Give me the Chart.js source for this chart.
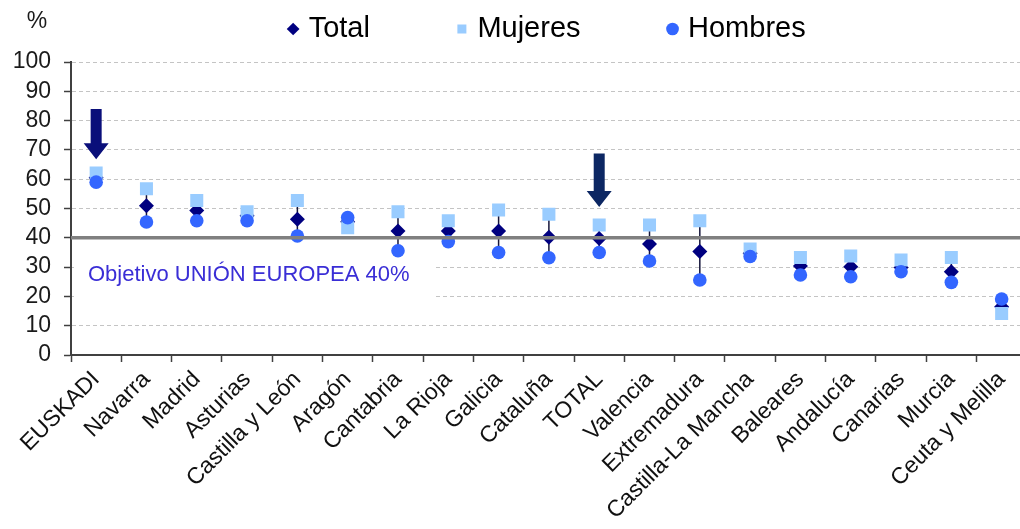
<!DOCTYPE html>
<html>
<head>
<meta charset="utf-8">
<script src="https://cdn.jsdelivr.net/npm/chart.js@4.4.0/dist/chart.umd.min.js"></script>
<style>
  html, body { margin: 0; padding: 0; background: #fff; overflow: hidden; }
  #wrap { width: 1036px; height: 529px; }
</style>
</head>
<body>
<div id="wrap"><canvas id="grafico" width="1036" height="529"></canvas></div>
<script>
// datos
const categorias = ['EUSKADI', 'Navarra', 'Madrid', 'Asturias', 'Castilla y León', 'Aragón', 'Cantabria',
  'La Rioja', 'Galicia', 'Cataluña', 'TOTAL', 'Valencia', 'Extremadura', 'Castilla-La Mancha',
  'Baleares', 'Andalucía', 'Canarias', 'Murcia', 'Ceuta y Melilla'];
const total   = [60.5, 50.9, 49.3, 47.5, 46.3, 45.5, 42.3, 42.3, 42.3, 40.2, 39.8, 37.9, 35.3, 34.7, 30.4, 30.1, 29.9, 28.4, 16.5];
const mujeres = [62.1, 56.7, 52.7, 48.9, 52.7, 43.4, 48.9, 45.8, 49.5, 48.0, 44.4, 44.4, 45.8, 36.2, 33.3, 33.8, 32.4, 33.3, 14.2];
const hombres = [59.0, 45.4, 45.8, 45.8, 40.6, 46.9, 35.6, 38.7, 35.0, 33.2, 35.0, 32.1, 25.6, 33.6, 27.3, 26.7, 28.4, 24.8, 19.1];
const objetivo = 40;
const objetivoTexto = 'Objetivo UNIÓN EUROPEA 40%';
// flechas: categoría, valor de inicio y punta
const flechaCats = ['EUSKADI', 'TOTAL'];
const flechaDesde = [84, 68.8];
const flechaHasta = [66.8, 50.5];

const FONT = "Arial, 'Liberation Sans', sans-serif";

function flecha(ctx, xc, y0, y1, color) {
  const shaft = 5.5, head = 12.5, headLen = 16;
  ctx.fillStyle = color;
  ctx.beginPath();
  ctx.moveTo(xc - shaft, y0);
  ctx.lineTo(xc + shaft, y0);
  ctx.lineTo(xc + shaft, y1 - headLen);
  ctx.lineTo(xc + head, y1 - headLen);
  ctx.lineTo(xc, y1);
  ctx.lineTo(xc - head, y1 - headLen);
  ctx.lineTo(xc - shaft, y1 - headLen);
  ctx.closePath();
  ctx.fill();
}

const extras = {
  id: 'extras',
  beforeDatasetsDraw(chart) {
    const {ctx, chartArea, scales: {x, y}} = chart;
    ctx.save();
    // caja blanca de la leyenda del objetivo
    const top = y.getPixelForValue(33.2), bot = y.getPixelForValue(17.4);
    ctx.fillStyle = '#fff';
    ctx.fillRect(chartArea.left + 3, top, 361, bot - top);
    ctx.fillStyle = '#3a2ed6';
    ctx.font = '22px ' + FONT;
    ctx.textBaseline = 'middle';
    ctx.fillText(objetivoTexto, chartArea.left + 17, y.getPixelForValue(27.4));
    // líneas entre mujeres y hombres
    ctx.strokeStyle = '#15153a';
    ctx.lineWidth = 1.5;
    categorias.forEach((c, i) => {
      const px = x.getPixelForValue(i);
      ctx.beginPath();
      ctx.moveTo(px, y.getPixelForValue(mujeres[i]));
      ctx.lineTo(px, y.getPixelForValue(hombres[i]));
      ctx.stroke();
    });
    ctx.restore();
  },
  afterDatasetsDraw(chart) {
    const {ctx, chartArea, scales: {x, y}} = chart;
    ctx.save();
    const py = y.getPixelForValue(objetivo);
    ctx.strokeStyle = '#808080';
    ctx.lineWidth = 3.5;
    ctx.beginPath();
    ctx.moveTo(chartArea.left, py);
    ctx.lineTo(chartArea.right, py);
    ctx.stroke();
    flechaCats.forEach((c, i) => {
      const px = x.getPixelForValue(categorias.indexOf(c));
      flecha(ctx, px, y.getPixelForValue(flechaDesde[i]), y.getPixelForValue(flechaHasta[i]), i === 0 ? '#0a0f7a' : '#0c2763');
    });
    ctx.fillStyle = '#1a1a1a';
    ctx.font = '23px ' + FONT;
    ctx.textAlign = 'center';
    ctx.textBaseline = 'middle';
    ctx.fillText('%', 37, 22);
    ctx.restore();
  }
};

const ctx = document.getElementById('grafico').getContext('2d');
const grafico = new Chart(ctx, {
  type: 'line',
  data: {
    labels: categorias,
    datasets: [{
      label: 'Total',
      data: total,
      order: 3,
      showLine: false,
      pointStyle: 'rectRot',
      pointRadius: 7.5,
      backgroundColor: '#000080',
      borderColor: '#000080',
      pointBorderWidth: 0
    }, {
      label: 'Mujeres',
      data: mujeres,
      order: 2,
      showLine: false,
      pointStyle: 'rect',
      pointRadius: 9.2,
      backgroundColor: '#99ccff',
      borderColor: '#99ccff',
      pointBorderWidth: 0
    }, {
      label: 'Hombres',
      data: hombres,
      order: 1,
      showLine: false,
      pointStyle: 'circle',
      pointRadius: 6.8,
      backgroundColor: '#3366ff',
      borderColor: '#3366ff',
      pointBorderWidth: 0
    }]
  },
  options: {
    responsive: false,
    animation: false,
    layout: { padding: { top: -76.5, left: 0, right: 0, bottom: 0 } },
    plugins: {
      tooltip: { enabled: false },
      legend: {
        position: 'top',
        fullSize: false,
        labels: {
          usePointStyle: true,
          boxWidth: 2,
          boxHeight: 9,
          padding: 91,
          color: '#000',
          font: { family: FONT, size: 29 },
          sort: (a, b) => a.datasetIndex - b.datasetIndex
        }
      },
      subtitle: {
        display: true,
        text: ' ',
        weight: 500,
        fullSize: false,
        font: { size: 1 },
        padding: { top: 0, bottom: 7.3 }
      }
    },
    scales: {
      x: {
        offset: true,
        grid: { offset: true, drawOnChartArea: false, tickLength: 7, tickColor: '#404040', tickWidth: 1.5 },
        border: { color: '#404040', width: 2 },
        ticks: { autoSkip: false, minRotation: 45, maxRotation: 45, color: '#111', font: { family: FONT, size: 23 }, padding: 4 },
        afterFit: (s) => { s.height = 174; }
      },
      y: {
        min: 0,
        max: 100,
        grid: { color: '#c4c4c4', lineWidth: 1, tickLength: 7, tickColor: '#404040', tickWidth: 1.5 },
        border: { color: '#404040', width: 2, dash: [4, 3] },
        ticks: { stepSize: 10, autoSkip: false, color: '#1a1a1a', font: { family: FONT, size: 23 }, padding: 13 },
        afterFit: (s) => { s.width = 71; }
      }
    }
  },
  plugins: [extras]
});
</script>
</body>
</html>
